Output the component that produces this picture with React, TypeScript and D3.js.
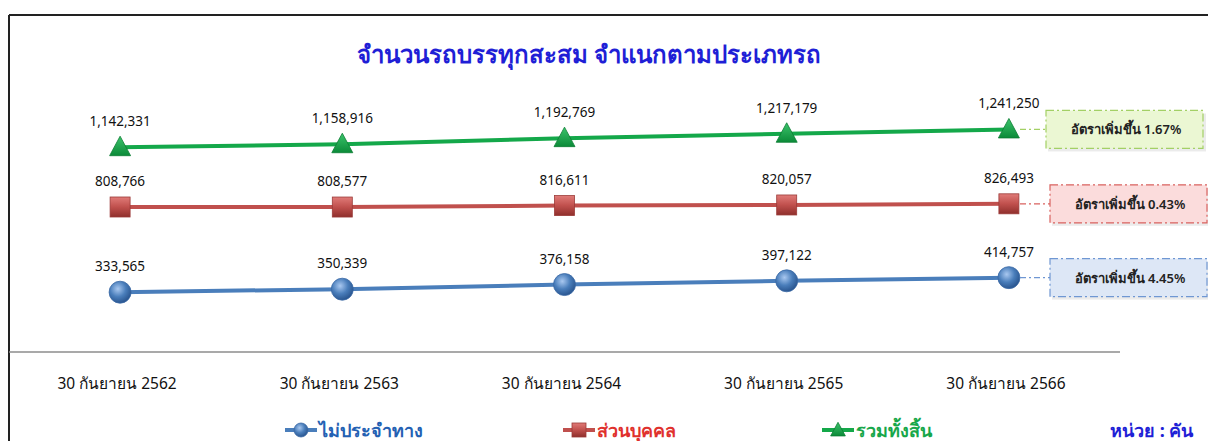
import React, { useEffect, useRef } from 'react';
import * as d3 from 'd3';

const WIDTH = 1208;
const HEIGHT = 441;
const FONT = "Tahoma, 'Noto Sans', 'DejaVu Sans', sans-serif";

const CATEGORIES = ['30 กันยายน 2562', '30 กันยายน 2563', '30 กันยายน 2564', '30 กันยายน 2565', '30 กันยายน 2566'];
const NON_FIXED = [333565, 350339, 376158, 397122, 414757];
const PRIVATE = [808766, 808577, 816611, 820057, 826493];
const TOTAL = [1142331, 1158916, 1192769, 1217179, 1241250];
const SERIES_NAMES = ['ไม่ประจำทาง', 'ส่วนบุคคล', 'รวมทั้งสิ้น'];
const GROWTH = ['4.45%', '0.43%', '1.67%'];

const SERIES = [
    { name: SERIES_NAMES[0], values: NON_FIXED, color: '#4a7ebb', text: '#2461b3', marker: 'circle', growth: GROWTH[0], boxFill: '#dde7f6', boxStroke: '#6f97d3' },
    { name: SERIES_NAMES[1], values: PRIVATE, color: '#c0504d', text: '#e0312d', marker: 'square', growth: GROWTH[1], boxFill: '#fbdcdc', boxStroke: '#d9625f' },
    { name: SERIES_NAMES[2], values: TOTAL, color: '#14a84a', text: '#17a74a', marker: 'triangle', growth: GROWTH[2], boxFill: '#ebf7d3', boxStroke: '#a3d065' },
];

export default function App() {
    const ref = useRef(null);

    useEffect(() => {
        const svg = d3.select(ref.current);
        svg.selectAll('*').remove();

        const x = d3.scaleBand()
            .domain(CATEGORIES)
            .range([9, 1120]);
        const y = d3.scaleLinear()
            .domain([0, 1400000])
            .range([352, 101]);
        const cx = (c) => x(c) + x.bandwidth() / 2;

        // gradients for the 3d looking markers
        const defs = svg.append('defs');
        const rg = defs.append('radialGradient').attr('id', 'gCircle').attr('cx', '40%').attr('cy', '35%').attr('r', '65%');
        rg.append('stop').attr('offset', '0%').attr('stop-color', '#a9c8f0');
        rg.append('stop').attr('offset', '55%').attr('stop-color', '#4a7ebb');
        rg.append('stop').attr('offset', '100%').attr('stop-color', '#2a5690');
        const sq = defs.append('linearGradient').attr('id', 'gSquare').attr('x1', 0).attr('y1', 0).attr('x2', 0).attr('y2', 1);
        sq.append('stop').attr('offset', '0%').attr('stop-color', '#e07b78');
        sq.append('stop').attr('offset', '50%').attr('stop-color', '#c0504d');
        sq.append('stop').attr('offset', '100%').attr('stop-color', '#8f2f2c');
        const tr = defs.append('linearGradient').attr('id', 'gTriangle').attr('x1', 0).attr('y1', 0).attr('x2', 0).attr('y2', 1);
        tr.append('stop').attr('offset', '0%').attr('stop-color', '#3cc46c');
        tr.append('stop').attr('offset', '100%').attr('stop-color', '#0b8a38');
        const fill = { circle: 'url(#gCircle)', square: 'url(#gSquare)', triangle: 'url(#gTriangle)' };

        // frame
        svg.append('line').attr('x1', 9).attr('x2', WIDTH).attr('y1', 15).attr('y2', 15)
            .attr('stroke', '#222').attr('stroke-width', 2);
        svg.append('line').attr('x1', 9).attr('x2', 9).attr('y1', 15).attr('y2', HEIGHT)
            .attr('stroke', '#222').attr('stroke-width', 2);

        // title
        svg.append('text')
            .attr('x', 589).attr('y', 63)
            .attr('text-anchor', 'middle')
            .attr('font-family', FONT)
            .attr('font-size', 24)
            .attr('font-weight', 600)
            .attr('fill', '#1f1fd6')
            .text('จำนวนรถบรรทุกสะสม จำแนกตามประเภทรถ');

        // category axis
        svg.append('line').attr('x1', 9).attr('x2', 1120).attr('y1', 352).attr('y2', 352)
            .attr('stroke', '#8c8c8c').attr('stroke-width', 1.3);
        svg.append('g').selectAll('text')
            .data(CATEGORIES)
            .join('text')
            .attr('x', (d) => cx(d) - 3)
            .attr('y', 389)
            .attr('text-anchor', 'middle')
            .attr('font-family', FONT)
            .attr('font-size', 15.5)
            .attr('fill', '#111')
            .text((d) => d);

        const line = d3.line()
            .x((d, i) => cx(CATEGORIES[i]))
            .y((d) => y(d));

        const drawMarker = (g, type, px, py, s) => {
            if (type === 'circle') {
                g.append('circle').attr('cx', px).attr('cy', py).attr('r', s)
                    .attr('fill', fill.circle).attr('stroke', '#3b6aa6').attr('stroke-width', 0.8);
            } else if (type === 'square') {
                g.append('rect').attr('x', px - s).attr('y', py - s).attr('width', s * 2).attr('height', s * 2)
                    .attr('fill', fill.square).attr('stroke', '#9b3b38').attr('stroke-width', 0.8);
            } else {
                g.append('path')
                    .attr('d', `M${px},${py - s * 1.1}L${px + s * 1.05},${py + s * 0.85}L${px - s * 1.05},${py + s * 0.85}Z`)
                    .attr('fill', fill.triangle).attr('stroke', '#0d7d34').attr('stroke-width', 0.8);
            }
        };

        SERIES.forEach((s) => {
            const g = svg.append('g');
            g.append('path')
                .datum(s.values)
                .attr('d', line)
                .attr('fill', 'none')
                .attr('stroke', s.color)
                .attr('stroke-width', 4);
            s.values.forEach((v, i) => {
                const px = cx(CATEGORIES[i]);
                const py = y(v);
                drawMarker(g, s.marker, px, py, s.marker === 'circle' ? 11 : 10);
                g.append('text')
                    .attr('x', px)
                    .attr('y', py - 21)
                    .attr('text-anchor', 'middle')
                    .attr('font-family', FONT)
                    .attr('font-size', 13.5)
                    .attr('fill', '#111')
                    .text(d3.format(',')(v));
            });

            // growth box
            const last = s.values[s.values.length - 1];
            const ly = y(last);
            const bx = s.marker === 'triangle' ? 1046 : 1050;
            g.append('line')
                .attr('x1', 1020).attr('x2', bx).attr('y1', ly).attr('y2', ly)
                .attr('stroke', s.boxStroke).attr('stroke-width', 1.2)
                .attr('stroke-dasharray', '6 3 2 3');
            g.append('rect')
                .attr('x', bx + 2).attr('y', ly - 16).attr('width', 158).attr('height', 38)
                .attr('fill', '#000').attr('opacity', 0.08);
            g.append('rect')
                .attr('x', bx).attr('y', ly - 19).attr('width', 157).attr('height', 38)
                .attr('fill', s.boxFill)
                .attr('stroke', s.boxStroke).attr('stroke-width', 1.2)
                .attr('stroke-dasharray', '8 3 2 3');
            g.append('text')
                .attr('x', bx + 80).attr('y', ly + 5)
                .attr('text-anchor', 'middle')
                .attr('font-family', FONT)
                .attr('font-size', 13)
                .attr('font-weight', 600)
                .attr('fill', '#222')
                .text(`อัตราเพิ่มขึ้น  ${s.growth}`);
        });

        // legend
        const legendX = [285, 563, 822];
        SERIES.forEach((s, i) => {
            const g = svg.append('g');
            const lx = legendX[i];
            const ly = 430;
            g.append('line').attr('x1', lx).attr('x2', lx + 32).attr('y1', ly).attr('y2', ly)
                .attr('stroke', s.color).attr('stroke-width', 4);
            drawMarker(g, s.marker, lx + 16, ly, 7);
            g.append('text')
                .attr('x', lx + 34).attr('y', ly + 7)
                .attr('font-family', FONT)
                .attr('font-size', 18)
                .attr('font-weight', 'bold')
                .attr('fill', s.text)
                .text(s.name);
        });

        svg.append('text')
            .attr('x', 1110).attr('y', 437)
            .attr('font-family', FONT)
            .attr('font-size', 18)
            .attr('font-weight', 'bold')
            .attr('fill', '#1f1fd6')
            .text('หน่วย : คัน');
    }, []);

    return (
        <svg ref={ref} width={WIDTH} height={HEIGHT}
            style={{ position: 'absolute', left: 0, top: 0, background: '#fff' }} />
    );
}
